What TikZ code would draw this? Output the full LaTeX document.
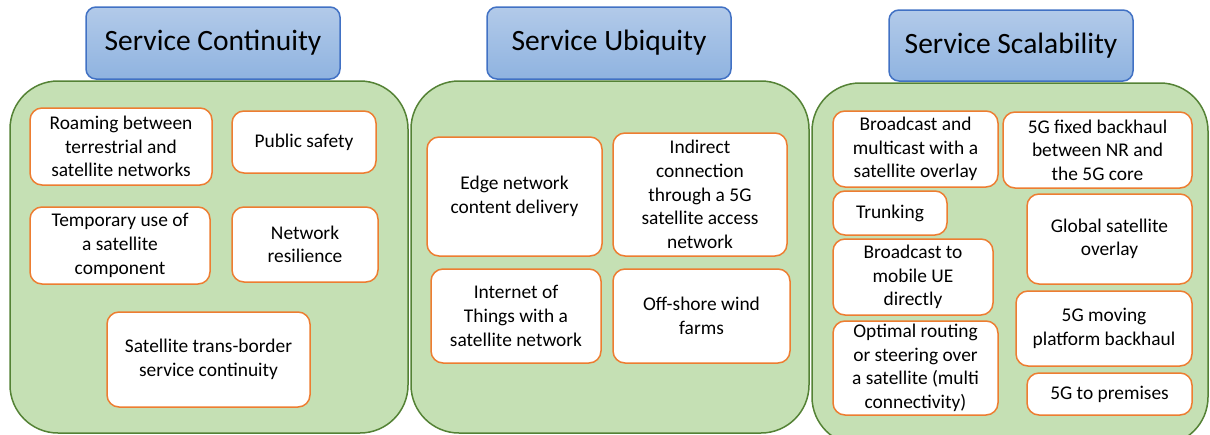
\documentclass[tikz,border=0pt]{standalone}
\usepackage{fontspec}
\setmainfont{Carlito}
\definecolor{panelfill}{RGB}{197,224,180}
\definecolor{paneldraw}{RGB}{84,130,53}
\definecolor{boxdraw}{RGB}{237,125,49}
\definecolor{titledraw}{RGB}{65,113,196}
\definecolor{titletop}{RGB}{178,202,233}
\definecolor{titlebot}{RGB}{143,179,224}
\tikzset{
  panel/.style={draw=paneldraw, fill=panelfill, line width=1.5pt, rounded corners=48pt},
  titlebox/.style={draw=titledraw, top color=titletop, bottom color=titlebot, line width=1.5pt,
    rounded corners=10pt, inner sep=0pt, font=\fontsize{29.5}{35}\selectfont},
  itembox/.style={draw=boxdraw, fill=white, line width=1.5pt, rounded corners=12pt,
    inner sep=0pt, align=center, font=\fontsize{19.4}{23.6}\selectfont},
}
% box from pixel corners: name, x1, y1, x2, y2, style, text
\newcommand{\pbox}[7]{%
  \pgfmathsetmacro{\cxx}{(#2+#4)/2}\pgfmathsetmacro{\cyy}{(#3+#5)/2}%
  \pgfmathsetmacro{\ww}{#4-#2}\pgfmathsetmacro{\hh}{#5-#3}%
  \node[#6, minimum width=\ww pt, minimum height=\hh pt] (#1) at (\cxx,\cyy) {#7};}
\begin{document}
\begin{tikzpicture}[x=1pt,y=-1pt]
\useasboundingbox (0,0) rectangle (1210,434);
\begin{scope}
\clip (0,0) rectangle (1210,434);
% panels
\pbox{p1}{10}{81}{408}{433}{panel}{}
\pbox{p2}{411}{81}{809}{433}{panel}{}
\pbox{p3}{812}{83}{1208}{445}{panel}{}
\end{scope}
% titles
\pbox{t1}{86}{7}{340}{79}{titlebox}{Service Continuity}
\pbox{t2}{487}{7}{731}{79}{titlebox}{Service Ubiquity}
\pbox{t3}{889}{10}{1133}{81}{titlebox}{Service Scalability}
% panel 1
\pbox{a1}{30}{108}{212}{185}{itembox}{Roaming between\\terrestrial and\\satellite networks}
\pbox{a2}{232}{111}{376}{173}{itembox}{Public safety}
\pbox{a3}{30}{207}{210}{284}{itembox}{Temporary use of\\a satellite\\component}
\pbox{a4}{232}{207}{378}{282}{itembox}{Network\\resilience}
\pbox{a5}{107}{312}{310}{407}{itembox}{Satellite trans-border\\service continuity}
% panel 2
\pbox{b1}{427}{137}{602}{256}{itembox}{Edge network\\content delivery}
\pbox{b2}{613}{133}{787}{256}{itembox}{Indirect\\connection\\through a 5G\\satellite access\\network}
\pbox{b3}{431}{269}{601}{363}{itembox}{Internet of\\Things with a\\satellite network}
\pbox{b4}{613}{269}{790}{363}{itembox}{Off-shore wind\\farms}
% panel 3
\pbox{c1}{833}{111}{998}{187}{itembox}{Broadcast and\\multicast with a\\satellite overlay}
\pbox{c2}{1003}{112}{1192}{188}{itembox}{5G fixed backhaul\\between NR and\\the 5G core}
\pbox{c3}{833}{191}{947}{235}{itembox}{Trunking}
\pbox{c4}{1027}{194}{1192}{284}{itembox}{Global satellite\\overlay}
\pbox{c5}{833}{239}{993}{315}{itembox}{Broadcast to\\mobile UE\\directly}
\pbox{c6}{1016}{291}{1192}{366}{itembox}{5G moving\\platform backhaul}
\pbox{c7}{833}{321}{998}{415}{itembox}{Optimal routing\\or steering over\\a satellite (multi\\connectivity)}
\pbox{c8}{1027}{373}{1192}{415}{itembox}{5G to premises}
\end{tikzpicture}
\end{document}
